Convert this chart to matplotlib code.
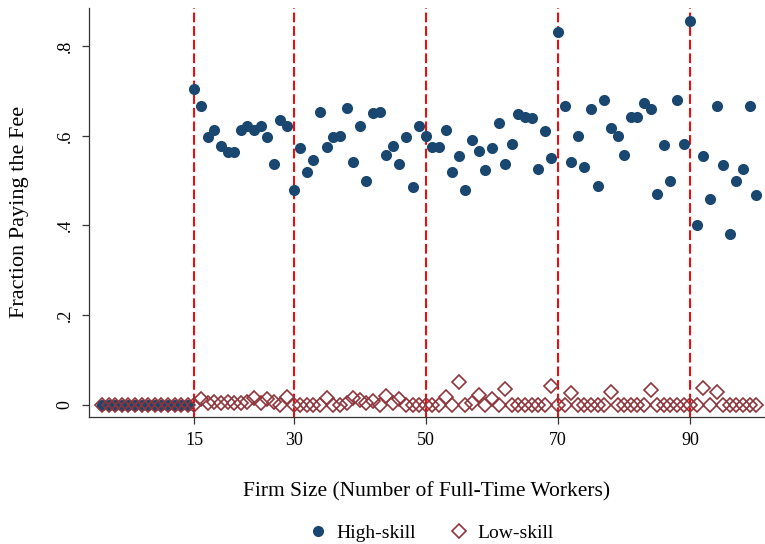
import numpy as np
import matplotlib.pyplot as plt

plt.rcParams["font.family"] = ["Liberation Serif", "DejaVu Serif"]

# firm size 1..100
firm_size = np.arange(1, 101)

# fraction paying the fee, high-skill workers (sizes 1-14 are exempt -> 0)
high_skill = [0.0] * 14 + [
    0.704, 0.666, 0.598, 0.613, 0.578, 0.563, 0.563, 0.613, 0.623, 0.613,   # 15-24
    0.623, 0.598, 0.537, 0.636, 0.623, 0.479, 0.572, 0.519, 0.545, 0.654,   # 25-34
    0.574, 0.598, 0.599, 0.662, 0.542, 0.623, 0.500, 0.651, 0.654, 0.558,   # 35-44
    0.577, 0.537, 0.598, 0.486, 0.623, 0.600, 0.576, 0.576, 0.613, 0.519,   # 45-54
    0.556, 0.480, 0.590, 0.566, 0.523, 0.572, 0.628, 0.538, 0.582, 0.648,   # 55-64
    0.642, 0.640, 0.527, 0.610, 0.551, 0.832, 0.666, 0.542, 0.599, 0.530,   # 65-74
    0.661, 0.489, 0.679, 0.617, 0.599, 0.557, 0.641, 0.643, 0.674, 0.661,   # 75-84
    0.470, 0.579, 0.500, 0.679, 0.582, 0.856, 0.400, 0.556, 0.458, 0.666,   # 85-94
    0.534, 0.380, 0.500, 0.525, 0.666, 0.468,                               # 95-100
]

# fraction paying the fee, low-skill workers
low_skill = [0.0] * 14 + [
    0.000, 0.012, 0.004, 0.006, 0.004, 0.006, 0.004, 0.004, 0.006, 0.014,   # 15-24
    0.004, 0.013, 0.005, 0.000, 0.016, 0.000, 0.000, 0.000, 0.000, 0.000,   # 25-34
    0.014, 0.000, 0.000, 0.004, 0.014, 0.010, 0.004, 0.008, 0.000, 0.020,   # 35-44
    0.004, 0.012, 0.000, 0.000, 0.000, 0.000, 0.000, 0.000, 0.016, 0.000,   # 45-54
    0.050, 0.000, 0.004, 0.022, 0.000, 0.013, 0.000, 0.034, 0.000, 0.000,   # 55-64
    0.000, 0.000, 0.000, 0.000, 0.042, 0.000, 0.000, 0.025, 0.000, 0.000,   # 65-74
    0.000, 0.000, 0.000, 0.028, 0.000, 0.000, 0.000, 0.000, 0.000, 0.032,   # 75-84
    0.000, 0.000, 0.000, 0.000, 0.000, 0.000, 0.000, 0.038, 0.000, 0.028,   # 85-94
    0.000, 0.000, 0.000, 0.000, 0.000, 0.000,                               # 95-100
]

thresholds = [15, 30, 50, 70, 90]
y_ticks = [0, 0.2, 0.4, 0.6, 0.8]
y_ticklabels = ["0", ".2", ".4", ".6", ".8"]

NAVY = "#1a476f"
MAROON = "#90353b"

fig = plt.figure(figsize=(7.65, 5.44), dpi=100)
ax = fig.add_axes([0.116, 0.234, 0.883, 0.751])

# size thresholds
for t in thresholds:
    ax.axvline(t, color="red", lw=1.4, ls=(0, (5, 2)), zorder=1)

ax.plot(firm_size, high_skill, "o", color=NAVY, ms=8, mew=0,
        label="High-skill", zorder=3)
ax.plot(firm_size, low_skill, "D", mfc="none", mec=MAROON, ms=6.8, mew=1.2,
        label="Low-skill", zorder=4)

ax.set_xlim(-1, 101.2)
ax.set_ylim(-0.027, 0.885)
ax.set_xticks(thresholds)
ax.set_yticks(y_ticks)
ax.set_yticklabels(y_ticklabels, rotation=90, va="center")
ax.tick_params(labelsize=13, length=5, width=0.9, color="#333333", pad=6)

for side in ["top", "right"]:
    ax.spines[side].set_visible(False)
for side in ["left", "bottom"]:
    ax.spines[side].set_color("#333333")
    ax.spines[side].set_linewidth(0.9)

ax.set_xlabel("Firm Size (Number of Full-Time Workers)", fontsize=15.5, labelpad=24)
ax.set_ylabel("Fraction Paying the Fee", fontsize=16, labelpad=20)

ax.legend(loc="upper center", bbox_to_anchor=(0.505, -0.22), ncol=2,
          frameon=False, fontsize=14, handlelength=1.2, handletextpad=0.35,
          columnspacing=1.6)

fig.savefig("out.png", dpi=100)
